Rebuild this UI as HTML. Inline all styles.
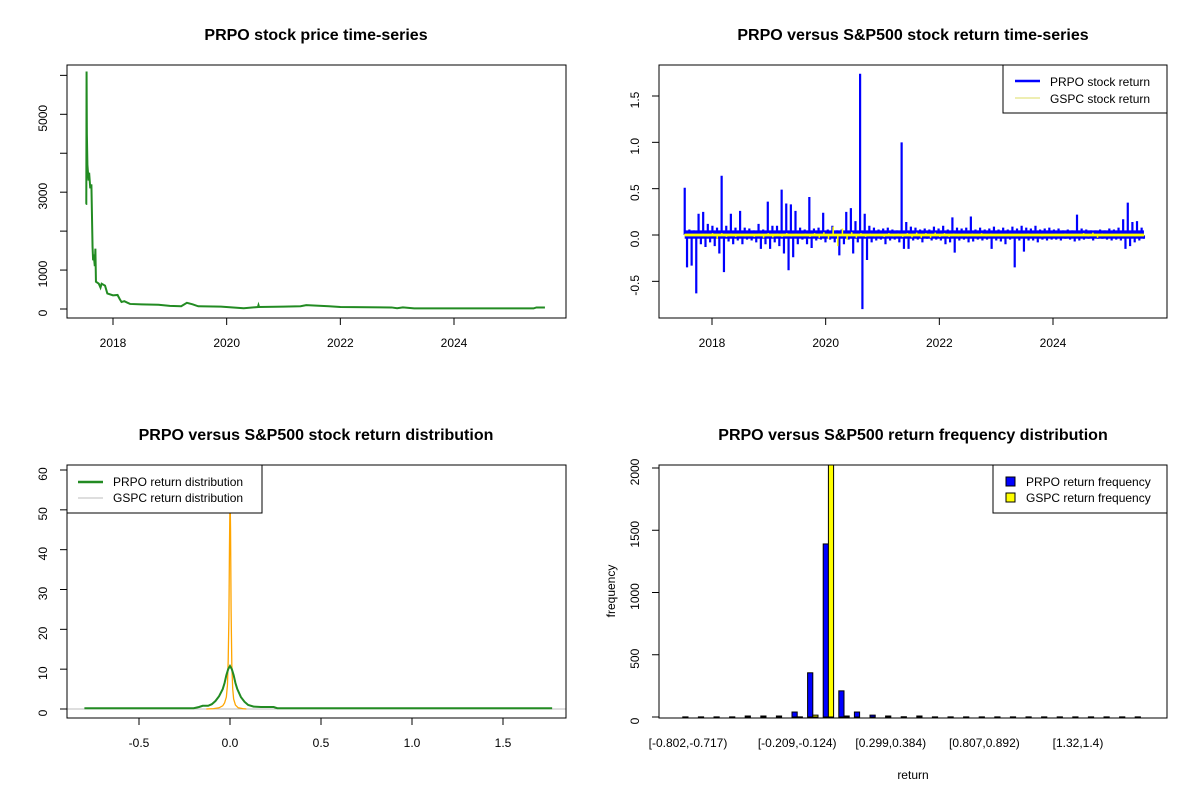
<!DOCTYPE html>
<html><head><meta charset="utf-8"><style>
body{margin:0;background:#fff}
svg{display:block;font-family:"Liberation Sans",Arial,sans-serif}
</style></head><body>
<svg id="c" width="1200" height="800" viewBox="0 0 1200 800"></svg>
<script>
// ---------- data ----------
const priceYears = [2017.52,2017.53,2017.535,2017.54,2017.55,2017.57,2017.58,2017.6,2017.62,2017.64,2017.65,2017.66,2017.68,2017.69,2017.70,2017.75,2017.78,2017.8,2017.86,2017.9,2018.0,2018.08,2018.12,2018.15,2018.2,2018.3,2018.5,2018.8,2019.0,2019.2,2019.3,2019.4,2019.5,2019.9,2020.3,2020.55,2020.56,2020.57,2021.0,2021.3,2021.4,2021.8,2022.0,2022.9,2023.0,2023.1,2023.3,2025.4,2025.45,2025.6];
const priceValues = [2700,2700,6100,4500,3700,3300,3500,3100,3200,1600,1250,1400,1100,1550,700,650,550,650,600,400,350,360,250,180,200,130,120,110,80,70,160,120,70,60,20,50,100,50,60,70,100,70,50,40,20,40,15,15,40,40];
const priceTicks = [0,1000,2000,3000,4000,5000,6000];
const priceTickLabels = ["0","1000","","3000","","5000",""];
const yearTicks = [2018,2020,2022,2024];

const retStart = 2017.52, retEnd = 2025.6;
const prpoReturns = [
0.51,-0.35,0.06,-0.33,0.05,-0.63,0.23,-0.10,0.25,-0.13,
0.12,-0.08,0.10,-0.12,0.08,-0.20,0.64,-0.40,0.10,-0.07,
0.23,-0.10,0.08,-0.06,0.26,-0.10,0.08,-0.05,0.07,-0.06,
0.05,-0.08,0.12,-0.15,0.06,-0.10,0.36,-0.15,0.10,-0.08,
0.10,-0.12,0.49,-0.20,0.34,-0.38,0.33,-0.24,0.26,-0.10,
0.08,-0.05,0.06,-0.10,0.41,-0.14,0.07,-0.06,0.08,-0.05,
0.24,-0.08,0.06,-0.05,0.10,-0.08,0.05,-0.22,0.06,-0.10,
0.25,-0.05,0.29,-0.20,0.15,-0.08,1.74,-0.80,0.23,-0.27,
0.10,-0.08,0.08,-0.06,0.06,-0.05,0.07,-0.10,0.08,-0.06,
0.06,-0.05,0.05,-0.08,1.00,-0.15,0.14,-0.15,0.09,-0.06,
0.08,-0.05,0.06,-0.08,0.07,-0.04,0.06,-0.06,0.09,-0.05,
0.07,-0.06,0.10,-0.10,0.06,-0.08,0.19,-0.19,0.08,-0.06,
0.07,-0.05,0.08,-0.08,0.20,-0.07,0.06,-0.05,0.08,-0.06,
0.06,-0.05,0.07,-0.15,0.09,-0.06,0.06,-0.07,0.08,-0.10,
0.06,-0.05,0.09,-0.35,0.07,-0.06,0.10,-0.18,0.08,-0.06,
0.07,-0.06,0.10,-0.08,0.06,-0.05,0.07,-0.06,0.08,-0.05,
0.06,-0.05,0.07,-0.06,0.05,-0.04,0.06,-0.05,0.05,-0.07,
0.22,-0.06,0.07,-0.05,0.06,-0.04,0.05,-0.06,0.05,-0.04,
0.06,-0.04,0.05,-0.05,0.07,-0.06,0.06,-0.05,0.08,-0.06,
0.17,-0.15,0.35,-0.12,0.14,-0.08,0.15,-0.06,0.08,-0.04];
const gspcReturns = [
0.01,-0.012,0.011,-0.01,0.012,-0.015,0.02,-0.04,0.02,-0.02,
0.015,-0.02,0.012,-0.015,0.01,-0.02,0.015,-0.03,0.02,-0.025,
0.015,-0.02,0.02,-0.015,0.012,-0.01,0.015,-0.02,0.02,-0.03,
0.03,-0.04,0.09,-0.12,0.07,-0.05,0.03,-0.03,0.02,-0.02,
0.015,-0.015,0.012,-0.02,0.02,-0.015,0.015,-0.02,0.02,-0.025,
0.025,-0.03,0.02,-0.03,0.025,-0.02,0.02,-0.02,0.015,-0.015,
0.012,-0.015,0.015,-0.012,0.02,-0.015,0.015,-0.012,0.01,-0.01,
0.012,-0.01,0.01,-0.012,0.015,-0.01,0.012,-0.015,0.01,-0.01,
0.012,-0.01,0.015,-0.012,0.01,-0.012,0.02,-0.015,0.025,-0.03,
0.015,-0.012,0.01,-0.01,0.012,-0.01,0.01,-0.012,0.01,-0.01];
const prpoNoiseBand = [-0.04,0.05];
const gspcNoiseBand = [-0.015,0.015];
const returnTicks = [-0.5,0,0.5,1,1.5];
const returnTickLabels = ["-0.5","0.0","0.5","1.0","1.5"];

const densPrpoX = [-0.80,-0.2,-0.17,-0.15,-0.12,-0.1,-0.08,-0.06,-0.04,-0.03,-0.02,-0.01,0,0.01,0.02,0.03,0.04,0.06,0.08,0.1,0.13,0.17,0.2,0.24,0.26,1.77];
const densPrpoY = [0.2,0.2,0.5,0.8,0.8,1.2,2,3.2,5,6.5,8.5,10,10.8,10,8.5,6.5,5,3,1.8,1,0.6,0.5,0.5,0.5,0.2,0.2];
const densGspcX = [-0.13,-0.09,-0.06,-0.04,-0.03,-0.02,-0.014,-0.01,-0.006,-0.003,-0.001,0.001,0.003,0.006,0.01,0.015,0.02,0.03,0.045,0.07,0.09];
const densGspcY = [0,0.1,0.3,0.8,1.5,3,6,12,23,40,49,52,45,25,11,5,2.5,1,0.3,0.1,0];
const densXTicks = [-0.5,0,0.5,1,1.5];
const densXTickLabels = ["-0.5","0.0","0.5","1.0","1.5"];
const densYTicks = [0,10,20,30,40,50,60];

const histPrpo = [1,1,1,1,8,8,8,40,355,1390,210,40,15,8,2,8,1,1,1,1,1,1,1,1,1,1,1,1,1,1];
const histGspc = [0,0,0,0,0,0,0,1,15,2040,8,0,0,0,0,0,0,0,0,0,0,0,0,0,0,0,0,0,0,0];
const histLabels = ["[-0.802,-0.717)","","","","","","","[-0.209,-0.124)","","","","","","[0.299,0.384)","","","","","","[0.807,0.892)","","","","","","[1.32,1.4)","","","",""];
const histYTicks = [0,500,1000,1500,2000];

// ---------- helpers ----------
const S = document.getElementById('c');
const NS = 'http://www.w3.org/2000/svg';
function el(tag, attrs, parent, name, inter) {
  const e = document.createElementNS(NS, tag);
  for (const k in attrs) e.setAttribute(k, attrs[k]);
  
  
  (parent || S).appendChild(e);
  return e;
}
function txt(x, y, s, parent, name, opts) {
  opts = opts || {};
  const t = el('text', {x: x, y: y, 'font-size': opts.size || 12, 'text-anchor': opts.anchor || 'middle', fill: '#000'}, parent, name, false);
  if (opts.bold) t.setAttribute('font-weight', 'bold');
  if (opts.rot) t.setAttribute('transform', 'rotate(-90 ' + x + ' ' + y + ')');
  t.textContent = s;
  return t;
}
function lin(d0, d1, r0, r1) { return v => r0 + (v - d0) * (r1 - r0) / (d1 - d0); }
function box(g, x0, y0, x1, y1, name) {
  el('rect', {x: x0, y: y0, width: x1 - x0, height: y1 - y0, fill: 'none', stroke: '#000', 'stroke-width': 1}, g, name, false);
}
function yAxis(g, xPos, ticks, labels, sy, name) {
  const a = el('g', {}, g, name, false);
  el('line', {x1: xPos, x2: xPos, y1: sy(ticks[0]), y2: sy(ticks[ticks.length - 1]), stroke: '#000'}, a, 'y-axis-line', false);
  ticks.forEach((t, i) => {
    el('line', {x1: xPos - 7, x2: xPos, y1: sy(t), y2: sy(t), stroke: '#000'}, a, 'y-tick', false);
    if (labels[i]) txt(xPos - 20, sy(t) + 4, labels[i], a, 'y-tick-label', {rot: true});
  });
}
function xAxis(g, yPos, ticks, labels, sx, name) {
  const a = el('g', {}, g, name, false);
  el('line', {x1: sx(ticks[0]), x2: sx(ticks[ticks.length - 1]), y1: yPos, y2: yPos, stroke: '#000'}, a, 'x-axis-line', false);
  ticks.forEach((t, i) => {
    el('line', {x1: sx(t), x2: sx(t), y1: yPos, y2: yPos + 7, stroke: '#000'}, a, 'x-tick', false);
    txt(sx(t), yPos + 29, labels[i], a, 'x-tick-label');
  });
}
function pathFrom(xs, ys, sx, sy) {
  return xs.map((x, i) => (i ? 'L' : 'M') + sx(x).toFixed(2) + ' ' + sy(ys[i]).toFixed(2)).join(' ');
}
function spikes(xs, ys, sx, sy) {
  return xs.map((x, i) => 'M' + sx(x).toFixed(2) + ' ' + sy(0).toFixed(2) + 'V' + sy(ys[i]).toFixed(2)).join(' ');
}

// ---------- panel 1: price ----------
{
  const g = el('g', {}, S, 'price-panel', false);
  const sx = lin(2018, 2024, 113, 454), sy = lin(0, 5000, 309, 114.3);
  txt(316, 40, 'PRPO stock price time-series', g, 'price-title', {size: 16, bold: true});
  el('path', {d: pathFrom(priceYears, priceValues, sx, sy), fill: 'none', stroke: '#228b22', 'stroke-width': 2}, g, 'price-line', false);
  box(g, 67, 65, 566, 318, 'price-plot-box');
  yAxis(g, 67, priceTicks, priceTickLabels, sy, 'price-y-axis');
  xAxis(g, 318, yearTicks, yearTicks.map(String), sx, 'price-x-axis');
}

// ---------- panel 2: returns ----------
{
  const g = el('g', {}, S, 'returns-panel', false);
  const sx = lin(2018, 2024, 712, 1053), sy = lin(0, 1.5, 235, 96);
  txt(913, 40, 'PRPO versus S&P500 stock return time-series', g, 'returns-title', {size: 16, bold: true});
  el('rect', {x: sx(retStart), y: sy(prpoNoiseBand[1]), width: sx(retEnd) - sx(retStart), height: sy(prpoNoiseBand[0]) - sy(prpoNoiseBand[1]), fill: '#0000ff'}, g, 'prpo-noise-band', false);
  const px = prpoReturns.map((v, i) => retStart + i * (retEnd - retStart) / (prpoReturns.length - 1));
  el('path', {d: spikes(px, prpoReturns, sx, sy), fill: 'none', stroke: '#0000ff', 'stroke-width': 2.2}, g, 'prpo-return-line', false);
  el('rect', {x: sx(retStart), y: sy(gspcNoiseBand[1]), width: sx(retEnd) - sx(retStart), height: sy(gspcNoiseBand[0]) - sy(gspcNoiseBand[1]), fill: '#ffff00'}, g, 'gspc-noise-band', false);
  const gx = gspcReturns.map((v, i) => retStart + i * (retEnd - retStart) / (gspcReturns.length - 1));
  el('path', {d: spikes(gx, gspcReturns, sx, sy), fill: 'none', stroke: '#ffff00', 'stroke-width': 1.5}, g, 'gspc-return-line', false);
  box(g, 659, 65, 1167, 318, 'returns-plot-box');
  yAxis(g, 659, returnTicks, returnTickLabels, sy, 'returns-y-axis');
  xAxis(g, 318, yearTicks, yearTicks.map(String), sx, 'returns-x-axis');
  const lg = el('g', {}, g, 'returns-legend', false);
  el('rect', {x: 1003, y: 65, width: 164, height: 48, fill: '#fff', stroke: '#000'}, lg, 'legend-box', false);
  el('line', {x1: 1015, x2: 1040, y1: 81, y2: 81, stroke: '#0000ff', 'stroke-width': 2.5}, lg, 'legend-prpo-swatch', false);
  txt(1050, 86, 'PRPO stock return', lg, 'legend-prpo-label', {anchor: 'start'});
  el('line', {x1: 1015, x2: 1040, y1: 98, y2: 98, stroke: '#dddd66', 'stroke-width': 1}, lg, 'legend-gspc-swatch', false);
  txt(1050, 103, 'GSPC stock return', lg, 'legend-gspc-label', {anchor: 'start'});
}

// ---------- panel 3: density ----------
{
  const g = el('g', {}, S, 'density-panel', false);
  const sx = lin(0, 1, 230, 412), sy = lin(0, 60, 709, 470);
  txt(316, 440, 'PRPO versus S&P500 stock return distribution', g, 'density-title', {size: 16, bold: true});
  el('line', {x1: 67, x2: 566, y1: sy(0), y2: sy(0), stroke: '#bebebe'}, g, 'zero-line', false);
  el('path', {d: pathFrom(densGspcX, densGspcY, sx, sy), fill: 'none', stroke: '#ffa500', 'stroke-width': 1.3}, g, 'gspc-density-line', false);
  el('path', {d: pathFrom(densPrpoX, densPrpoY, sx, sy), fill: 'none', stroke: '#228b22', 'stroke-width': 2}, g, 'prpo-density-line', false);
  const lg = el('g', {}, g, 'density-legend', false);
  el('rect', {x: 67, y: 465, width: 195, height: 48, fill: '#fff', stroke: '#000'}, lg, 'legend-box', false);
  el('line', {x1: 78, x2: 103, y1: 482, y2: 482, stroke: '#228b22', 'stroke-width': 2.5}, lg, 'legend-prpo-swatch', false);
  txt(113, 486, 'PRPO return distribution', lg, 'legend-prpo-label', {anchor: 'start'});
  el('line', {x1: 78, x2: 103, y1: 498, y2: 498, stroke: '#bebebe', 'stroke-width': 1}, lg, 'legend-gspc-swatch', false);
  txt(113, 502, 'GSPC return distribution', lg, 'legend-gspc-label', {anchor: 'start'});
  box(g, 67, 465, 566, 718, 'density-plot-box');
  yAxis(g, 67, densYTicks, densYTicks.map(String), sy, 'density-y-axis');
  xAxis(g, 718, densXTicks, densXTickLabels, sx, 'density-x-axis');
}

// ---------- panel 4: histogram ----------
{
  const g = el('g', {}, S, 'histogram-panel', false);
  const sx = lin(0, 29, 688, 1140.4), sy = lin(0, 2000, 717, 468);
  const bw = 5.2;
  txt(913, 440, 'PRPO versus S&P500 return frequency distribution', g, 'histogram-title', {size: 16, bold: true});
  const cp = el('clipPath', {id: 'hclip'}, g, 'histogram-clip', false);
  el('rect', {x: 659, y: 465, width: 508, height: 253}, cp, 'clip-rect', false);
  const bars = el('g', {'clip-path': 'url(#hclip)'}, g, 'histogram-bars', false);
  histPrpo.forEach((v, i) => {
    const c = sx(i);
    el('rect', {x: c - bw, y: sy(v), width: bw, height: sy(0) - sy(v), fill: '#0000ff', stroke: '#000', 'stroke-width': 1}, bars, 'prpo-bar', false);
    el('rect', {x: c, y: sy(histGspc[i]), width: bw, height: sy(0) - sy(histGspc[i]), fill: '#ffff00', stroke: '#000', 'stroke-width': 1}, bars, 'gspc-bar', false);
    if (histLabels[i]) txt(c, 747, histLabels[i], g, 'x-bin-label');
  });
  box(g, 659, 465, 1167, 718, 'histogram-plot-box');
  yAxis(g, 659, histYTicks, histYTicks.map(String), sy, 'histogram-y-axis');
  txt(615, 591, 'frequency', g, 'y-axis-title', {rot: true});
  txt(913, 779, 'return', g, 'x-axis-title');
  const lg = el('g', {}, g, 'histogram-legend', false);
  el('rect', {x: 993, y: 465, width: 174, height: 48, fill: '#fff', stroke: '#000'}, lg, 'legend-box', false);
  el('rect', {x: 1006, y: 477, width: 9, height: 9, fill: '#0000ff', stroke: '#000'}, lg, 'legend-prpo-swatch', false);
  txt(1026, 486, 'PRPO return frequency', lg, 'legend-prpo-label', {anchor: 'start'});
  el('rect', {x: 1006, y: 493, width: 9, height: 9, fill: '#ffff00', stroke: '#000'}, lg, 'legend-gspc-swatch', false);
  txt(1026, 502, 'GSPC return frequency', lg, 'legend-gspc-label', {anchor: 'start'});
}
</script>
</body></html>
